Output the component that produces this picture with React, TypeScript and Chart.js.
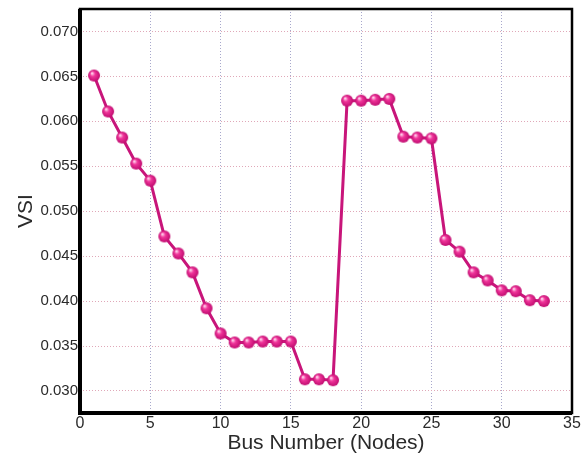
import React, { useEffect, useRef } from "react";
import { Chart, registerables } from "chart.js";

Chart.register(...registerables);

const busNumbers = [1,2,3,4,5,6,7,8,9,10,11,12,13,14,15,16,17,18,19,20,21,22,23,24,25,26,27,28,29,30,31,32,33];
const vsiValues = [
  0.0651, 0.0611, 0.0582, 0.0553, 0.0534, 0.0472, 0.0453, 0.0432, 0.0392, 0.0364,
  0.0354, 0.0354, 0.0355, 0.0355, 0.0355, 0.0313, 0.0313, 0.0312, 0.0623, 0.0623,
  0.0624, 0.0625, 0.0583, 0.0582, 0.0581, 0.0468, 0.0455, 0.0432, 0.0423, 0.0412,
  0.0411, 0.0401, 0.0400,
];
const xTicks = [0, 5, 10, 15, 20, 25, 30, 35];
const yTicks = [0.03, 0.035, 0.04, 0.045, 0.05, 0.055, 0.06, 0.065, 0.07];

function makeSphere(r: number) {
  const c = document.createElement("canvas");
  c.width = r * 2 + 2;
  c.height = r * 2 + 2;
  const ctx = c.getContext("2d")!;
  const cx = r + 1, cy = r + 1;
  const g = ctx.createRadialGradient(cx - r * 0.35, cy - r * 0.4, r * 0.1, cx, cy, r);
  g.addColorStop(0, "#ffd0ea");
  g.addColorStop(0.35, "#f0359a");
  g.addColorStop(1, "#c00c70");
  ctx.fillStyle = g;
  ctx.beginPath();
  ctx.arc(cx, cy, r, 0, Math.PI * 2);
  ctx.fill();
  return c;
}

const frame = {
  id: "frame",
  afterDraw(chart: any) {
    const { ctx, chartArea } = chart;
    ctx.save();
    ctx.strokeStyle = "#000";
    ctx.lineWidth = 2.5;
    ctx.strokeRect(chartArea.left, chartArea.top, chartArea.right - chartArea.left, chartArea.bottom - chartArea.top);
    ctx.lineWidth = 4;
    ctx.beginPath();
    ctx.moveTo(chartArea.left, chartArea.top);
    ctx.lineTo(chartArea.left, chartArea.bottom);
    ctx.lineTo(chartArea.right, chartArea.bottom);
    ctx.stroke();
    ctx.restore();
  },
};

export default function App() {
  const ref = useRef<HTMLCanvasElement>(null);
  useEffect(() => {
    document.body.style.margin = "0";
    const sphere = makeSphere(6);
    const font = { family: "'Liberation Sans', Arial, sans-serif", size: 15 };
    const chart = new Chart(ref.current!, {
      type: "line",
      data: {
        datasets: [
          {
            data: busNumbers.map((b, i) => ({ x: b, y: vsiValues[i] })),
            borderColor: "#c8157a",
            borderWidth: 3,
            pointStyle: sphere as any,
            pointRadius: 6,
            tension: 0,
          },
        ],
      },
      options: {
        animation: false,
        responsive: false,
        maintainAspectRatio: false,
        layout: { padding: { top: 6, right: 5, left: 0, bottom: 0 } },
        plugins: { legend: { display: false }, tooltip: { enabled: false } },
        scales: {
          x: {
            type: "linear",
            min: 0,
            max: 35,
            afterBuildTicks: (s: any) => { s.ticks = xTicks.map((v) => ({ value: v })); },
            afterFit: (s: any) => { s.height = 46; s.paddingLeft = 0; s.paddingRight = 0; },
            ticks: { color: "#2a2a2a", font: { ...font, size: 16 }, padding: 1, maxRotation: 0, autoSkip: false },
            grid: { color: "#a8a8cc", lineWidth: 1, tickLength: 0, drawTicks: false },
            border: { display: false, dash: [1, 2] } as any,
            title: { display: true, text: "Bus Number (Nodes)", color: "#2a2a2a", font: { ...font, size: 21 }, padding: { top: 0, bottom: 3 } },
          },
          y: {
            type: "linear",
            min: 0.02755,
            max: 0.0725,
            afterBuildTicks: (s: any) => { s.ticks = yTicks.map((v) => ({ value: v })); },
            afterFit: (s: any) => { s.width = 80; s.paddingTop = 0; s.paddingBottom = 0; },
            ticks: {
              color: "#2a2a2a",
              font,
              padding: 2,
              callback: (v: any) => Number(v).toFixed(3),
            },
            grid: { color: "#e0a8b8", lineWidth: 1, drawTicks: false, tickLength: 0 },
            border: { display: false, dash: [1, 2] } as any,
            title: { display: true, text: "VSI", color: "#2a2a2a", font: { ...font, size: 21 }, padding: { top: 14, bottom: 0 } },
          },
        },
      } as any,
      plugins: [frame],
    });
    return () => chart.destroy();
  }, []);
  return (
    <div style={{ width: 581, height: 459 }}>
      <canvas ref={ref} width={581} height={459} style={{ width: 581, height: 459, display: "block" }} />
    </div>
  );
}
